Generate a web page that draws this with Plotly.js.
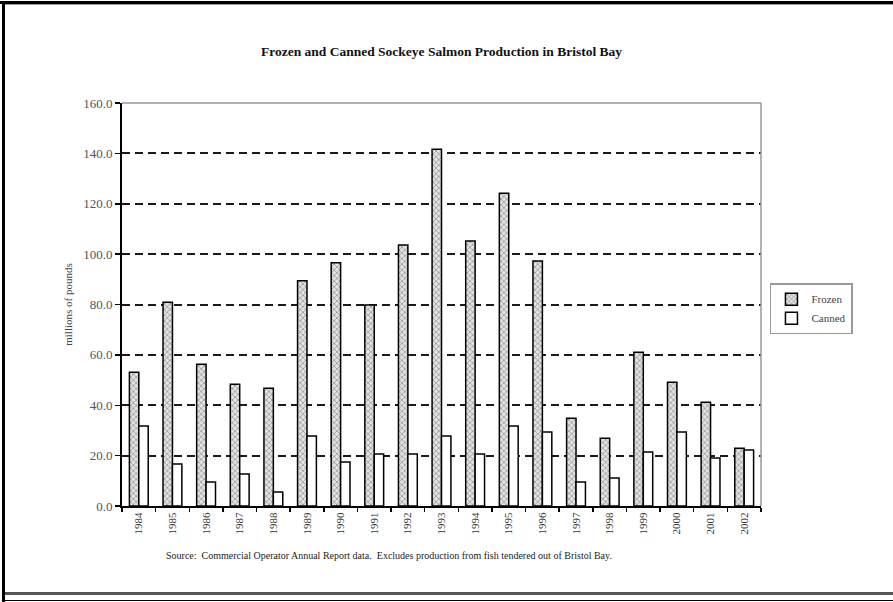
<!DOCTYPE html>
<html>
<head>
<meta charset="utf-8">
<script src="https://cdn.plot.ly/plotly-3.0.1.min.js"></script>
<style>
  html, body { margin: 0; padding: 0; background: #fff; }
  #chart { width: 893px; height: 602px; }
  .frame { position: absolute; pointer-events: none; }
</style>
</head>
<body>
<div id="chart"></div>
<div class="frame" style="left:0;top:1px;width:893px;height:3px;background:#000;"></div>
<div class="frame" style="left:4px;top:4px;width:889px;height:1px;background:#999;"></div>
<div class="frame" style="left:2px;top:1px;width:3px;height:601px;background:#000;"></div>
<div class="frame" style="left:5px;top:592px;width:888px;height:3px;background:#555;"></div>
<div class="frame" style="left:5px;top:600px;width:888px;height:1px;background:#000;"></div>
<script>
const years = ["1984","1985","1986","1987","1988","1989","1990","1991","1992","1993","1994","1995","1996","1997","1998","1999","2000","2001","2002"];
const frozen = [53.1, 80.9, 56.3, 48.3, 46.7, 89.4, 96.6, 79.8, 103.6, 141.6, 105.2, 124.2, 97.3, 34.8, 26.9, 61.0, 49.1, 41.2, 22.9];
const canned = [31.8, 16.7, 9.5, 12.7, 5.6, 27.8, 17.5, 20.6, 20.6, 27.8, 20.6, 31.8, 29.4, 9.5, 11.1, 21.4, 29.4, 19.1, 22.2];
const yTicks = [0, 20, 40, 60, 80, 100, 120, 140, 160];

const serif = "Liberation Serif, Times New Roman, serif";

const traces = [
  {
    type: "bar", name: "Frozen", x: years, y: frozen,
    marker: {
      color: "#d8d8d8",
      line: {color: "#000", width: 1.5},
      pattern: {shape: "x", fgcolor: "#777", bgcolor: "#e2e2e2", size: 4, solidity: 0.25}
    }
  },
  {
    type: "bar", name: "Canned", x: years, y: canned,
    marker: {color: "#ffffff", line: {color: "#000", width: 1.5}}
  }
];

const layout = {
  width: 893, height: 602,
  margin: {l: 122, r: 132, t: 103, b: 96},
  paper_bgcolor: "#fff", plot_bgcolor: "#fff",
  barmode: "group", bargap: 0.44, bargroupgap: 0,
  showlegend: true,
  title: {
    text: "<b>Frozen and Canned Sockeye Salmon Production in Bristol Bay</b>",
    font: {family: serif, size: 13.5, color: "#111"},
    x: 0.5, xref: "paper", xanchor: "center",
    y: 60, yref: "container", yanchor: "middle"
  },
  xaxis: {
    type: "category",
    tickson: "boundaries",
    ticks: "outside", ticklen: 4, tickwidth: 1.5, tickcolor: "#000",
    showline: true, linecolor: "#000", linewidth: 2,
    showgrid: false,
    tickangle: -90,
    tickfont: {family: serif, size: 11, color: "#333"},
    automargin: false
  },
  yaxis: {
    range: [0, 160],
    tickvals: yTicks,
    tickformat: ".1f",
    ticks: "outside", ticklen: 5, tickwidth: 1.5, tickcolor: "#000",
    showline: true, linecolor: "#000", linewidth: 2,
    showgrid: true, gridcolor: "#1a1a1a", gridwidth: 2, griddash: "8px,5px",
    zeroline: false,
    tickfont: {family: serif, size: 13, color: "#555"},
    title: {text: "millions of pounds", font: {family: serif, size: 11, color: "#444"}, standoff: 8},
    automargin: false
  },
  legend: {
    x: 1.014, xanchor: "left", y: 0.553, yanchor: "top",
    bordercolor: "#999", borderwidth: 1.5, bgcolor: "#fff",
    font: {family: serif, size: 11, color: "#444"},
    itemwidth: 30, tracegroupgap: 2
  },
  shapes: [
    {type: "line", xref: "paper", yref: "paper", x0: 0, x1: 1, y0: 1, y1: 1, line: {color: "#999", width: 1.5}, layer: "above"},
    {type: "line", xref: "paper", yref: "paper", x0: 1, x1: 1, y0: 0, y1: 1, line: {color: "#999", width: 1.5}, layer: "above"}
  ],
  annotations: [
    {
      text: "Source:  Commercial Operator Annual Report data.  Excludes production from fish tendered out of Bristol Bay.",
      xref: "paper", yref: "paper", x: 0.418, y: -0.122, xanchor: "center", yanchor: "middle",
      showarrow: false, font: {family: serif, size: 10, color: "#222"}
    }
  ]
};

Plotly.newPlot("chart", traces, layout, {displayModeBar: false, staticPlot: true});
</script>
</body>
</html>
